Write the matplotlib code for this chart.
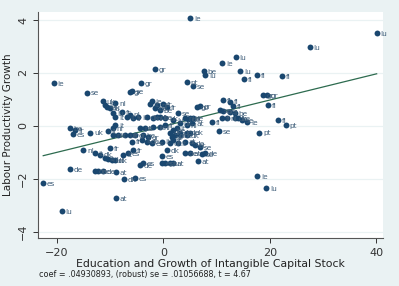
import numpy as np
import matplotlib
matplotlib.use('Agg')
import matplotlib.pyplot as plt

# growth of intangible capital stock (x) vs labour productivity growth (y), with country label
x_vals = [5.0, 40.1, 27.5, 13.6, 11.0, 14.4, 17.6, 22.3, 7.6, 7.8,
          15.1, -1.6, -4.2, -20.6, -14.4, -6.3, -5.9, 4.4, 5.5, -22.6,
          -19.1, -8.9, -8.9, -17.6, -7.4, -5.4, -12.9, -12.3, -11.4, 17.6,
          19.3, 18.0, 23.0, 21.5, 19.6, 18.7, 19.5, 10.4, -11.4, -11.0,
          -10.6, -10.1, -9.1, -7.8, -6.9, -6.3, -5.7, -4.8, -9.1, -9.5,
          -17.6, -16.6, -17.0, -13.8, -10.4, -9.5, -8.6, -7.2, -6.3, -5.4,
          -2.2, -2.5, -1.2, -1.6, -0.7, -0.1, 0.7, 2.7, 6.3, 6.9,
          -3.1, -2.0, -1.2, -0.7, 0.3, 1.8, 4.0, 5.0, 5.5, 9.1,
          4.4, 5.4, -4.4, -3.5, -2.0, -0.7, 0.3, 1.8, 2.5, 1.2,
          1.6, 2.2, 3.1, 4.4, 5.0, -3.9, -2.9, 11.2, 12.5, 13.1,
          10.6, 11.2, 12.5, 13.4, 11.9, 13.4, 14.0, 14.8, 15.7, 3.1,
          4.6, -15.1, -12.9, -11.9, -10.1, -11.0, -10.4, -9.7, -9.1, -7.6,
          -6.7, -5.7, -5.9, -4.0, -3.1, -2.2, -0.3, 1.2, 1.8, 2.7,
          4.0, 5.4, 5.9, 6.9, 0.7, 4.0, 5.0, 7.2, 7.8, -0.3,
          6.5, -0.3, 0.3, 1.2, 1.8, -3.9, -4.4, 3.1, 4.4, 11.0,
          -9.5, -9.1]
y_vals = [4.08, 3.51, 2.98, 2.60, 2.38, 2.08, 1.92, 1.89, 2.08, 1.92,
          1.77, 2.15, 1.62, 1.62, 1.25, 1.28, 1.32, 1.66, 1.51, -2.15,
          -3.21, -2.72, -1.74, -1.62, -2.00, -1.96, -1.70, -1.70, -1.70, -1.89,
          -2.34, -0.26, 0.04, 0.23, 0.79, 1.17, 1.17, -0.19, 0.94, 0.79,
          0.72, 0.68, 0.87, 0.53, 0.34, 0.42, 0.30, 0.34, 0.04, -0.08,
          -0.08, -0.15, -0.30, -0.26, -0.19, -0.34, -0.34, -0.34, -0.34, -0.34,
          0.94, 0.83, 0.79, 0.68, 0.60, 0.83, 0.72, 0.49, 0.72, 0.75,
          0.34, 0.30, 0.34, 0.34, 0.30, 0.23, 0.30, 0.30, 0.30, 0.15,
          0.04, 0.11, -0.08, -0.08, -0.04, -0.04, 0.04, -0.15, -0.08, -0.26,
          -0.42, -0.34, -0.34, -0.34, -0.26, -0.34, -0.42, 0.98, 0.91, 0.75,
          0.60, 0.57, 0.53, 0.49, 0.30, 0.30, 0.30, 0.23, 0.15, 0.11,
          0.26, -0.91, -1.02, -1.09, -0.83, -1.21, -1.25, -1.28, -1.28, -1.09,
          -1.02, -0.91, -0.60, -0.53, -0.60, -0.64, -0.60, -0.64, -0.53, -0.64,
          -0.60, -0.64, -0.72, -0.79, -0.91, -1.02, -1.02, -1.06, -1.02, -1.13,
          -1.32, -1.40, -1.40, -1.40, -1.40, -1.40, -1.47, -0.26, -0.26, 0.30,
          0.49, 0.34]
labels = ['ie', 'lu', 'lu', 'lu', 'ie', 'lu', 'fi', 'fi', 'be', 'lu',
          'fi', 'gr', 'gr', 'ie', 'se', 'gr', 'se', 'pt', 'se', 'es',
          'lu', 'at', 'at', 'de', 'dk', 'es', 'de', 'de', 'de', 'ie',
          'lu', 'pt', 'pt', 'fi', 'fi', 'gr', 'gr', 'se', 'uk', 'lu',
          'uk', 'lu', 'nl', 'fr', 'it', 'nl', 'fr', 'it', 'it', 'nl',
          'be', 'fr', 'es', 'uk', 'fi', 'nl', 'it', 'uk', 'fr', 'gr',
          'ie', 'it', 'nl', 'be', 'be', 'fr', 'fr', 'se', 'gr', 'gr',
          'dk', 'nl', 'dk', 'be', 'uk', 'lu', 'nl', 'be', 'fr', 'fi',
          'nl', 'at', 'pt', 'it', 'uk', 'nl', 'fr', 'be', 'it', 'uk',
          'nl', 'gr', 'be', 'dk', 'uk', 'be', 'gr', 'fi', 'fi', 'fi',
          'se', 'be', 'fi', 'be', 'nl', 'dk', 'be', 'se', 'ie', 'uk',
          'de', 'nl', 'it', 'dk', 'fr', 'it', 'nl', 'uk', 'dk', 'it',
          'es', 'fr', 'fr', 'it', 'de', 'es', 'it', 'uk', 'fr', 'it',
          'at', 'de', 'at', 'se', 'dk', 'de', 'at', 'se', 'de', 'es',
          'at', 'es', 'pt', 'lu', 'at', 'es', 'de', 'de', 'de', 'fi',
          'lu', 'it']

coef = 0.04930893
intercept = -0.01
caption = 'coef = .04930893, (robust) se = .01056688, t = 4.67'

bg = '#eaf2f3'
navy = '#1a476f'

fig = plt.figure(figsize=(3.99, 2.86), dpi=100)
fig.patch.set_facecolor(bg)
ax = fig.add_axes([0.095, 0.168, 0.865, 0.79])
ax.set_facecolor('white')

ax.set_xlim(-23.6, 41.3)
ax.set_ylim(-4.23, 4.3)
ax.set_yticks([-4, -2, 0, 2, 4])
ax.set_xticks([-20, 0, 20, 40])
ax.grid(axis='y', color=bg, linewidth=0.9)
ax.set_axisbelow(True)

ax.scatter(x_vals, y_vals, s=18, color=navy, zorder=3, linewidths=0)
for xi, yi, lab in zip(x_vals, y_vals, labels):
    ax.annotate(lab, (xi, yi), xytext=(2.8, -0.5), textcoords='offset points',
                fontsize=5.3, color='#3d5c78', va='center', ha='left', zorder=4)

# linear fit
xf = np.array([min(x_vals), max(x_vals)])
ax.plot(xf, intercept + coef * xf, color='#2d6b4f', linewidth=0.9, zorder=2)

for s in ['top', 'right']:
    ax.spines[s].set_visible(False)
for s in ['left', 'bottom']:
    ax.spines[s].set_color('#555555')
    ax.spines[s].set_linewidth(0.8)
ax.tick_params(axis='both', colors='#333333', labelsize=8, length=3.5, width=0.7)
for t in ax.get_yticklabels():
    t.set_rotation(90)
    t.set_va('center')

ax.set_ylabel('Labour Productivity Growth', fontsize=7.5, color='#222222', labelpad=4)
ax.set_xlabel('Education and Growth of Intangible Capital Stock', fontsize=7.8,
              color='#222222', labelpad=1)
fig.text(0.098, 0.03, caption, fontsize=5.8, color='#222222')

plt.savefig('out.png', dpi=100, facecolor=fig.get_facecolor())
